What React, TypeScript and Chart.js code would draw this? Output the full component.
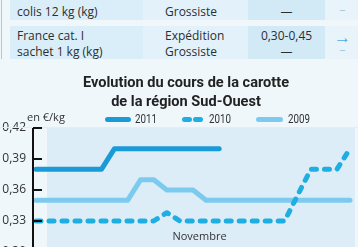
import React, { useEffect, useRef } from "react";
import { Chart, registerables } from "chart.js";

Chart.register(...registerables);

// ---- data ----
const weeks = [1, 2, 3, 4, 5, 6, 7, 8, 9, 10, 11, 12, 13, 14, 15, 16, 17, 18, 19, 20, 21, 22, 23, 24, 25];
const series2011 = [0.38, 0.38, 0.38, 0.38, 0.38, 0.38, 0.4, 0.4, 0.4, 0.4, 0.4, 0.4, 0.4, 0.4, 0.4, null, null, null, null, null, null, null, null, null, null];
const series2010 = [0.33, 0.33, 0.33, 0.33, 0.33, 0.33, 0.33, 0.33, 0.33, 0.33, 0.338, 0.33, 0.33, 0.33, 0.33, 0.33, 0.33, 0.33, 0.33, 0.33, 0.355, 0.38, 0.38, 0.38, 0.4];
const series2009 = [0.35, 0.35, 0.35, 0.35, 0.35, 0.35, 0.35, 0.35, 0.37, 0.37, 0.36, 0.36, 0.36, 0.35, 0.35, 0.35, 0.35, 0.35, 0.35, 0.35, 0.35, 0.35, 0.35, 0.35, 0.35];
const seriesNames = ["2011", "2010", "2009"];
const yTicks = [0.3, 0.33, 0.36, 0.39, 0.42];
const monthLabel = "Novembre";
const monthPosition = 13.5; // week at which the month label is centred
const titleLines = ["Evolution du cours de la carotte", "de la région Sud-Ouest"];
const unitLabel = "en €/kg";

const tableRows = [
  { product: ["", "colis 12 kg (kg)"], stage: ["", "Grossiste"], price: ["", "—"], trend: ["", "–"] },
  { product: ["France cat. I", "sachet 1 kg (kg)"], stage: ["Expédition", "Grossiste"], price: ["0,30-0,45", "—"], trend: ["→", "–"] },
];

const COLORS = ["#1a9bd7", "#1eaee2", "#7ccbef"];
const NARROW = "Roboto, 'Noto Sans', sans-serif";
const HUMAN = "'Open Sans', 'Noto Sans', sans-serif";

const fmt = (v: number) => v.toFixed(2).replace(".", ",");

function narrowText(ctx: any, t: string, x: number, y: number, sx: number, align: string) {
  ctx.save();
  ctx.translate(x, y);
  ctx.scale(sx, 1);
  ctx.textAlign = align;
  ctx.fillText(t, 0, 0);
  ctx.restore();
}

export default function App() {
  const ref = useRef<HTMLCanvasElement | null>(null);

  useEffect(() => {
    document.body.style.margin = "0";
    const canvas = ref.current;
    if (!canvas) return;

    const decor = {
      id: "decor",
      beforeDatasetsDraw(chart: any) {
        const { ctx, chartArea } = chart;
        ctx.save();
        ctx.fillStyle = "#dcedf8";
        ctx.fillRect(chartArea.left + 14, chartArea.top, chartArea.right - chartArea.left - 14, chart.height - chartArea.top);
        ctx.strokeStyle = "#e2eef6";
        ctx.lineWidth = 1;
        ctx.beginPath();
        ctx.moveTo(0, chartArea.top - 0.5);
        ctx.lineTo(chart.width, chartArea.top - 0.5);
        ctx.stroke();
        ctx.restore();
      },
      afterDatasetsDraw(chart: any) {
        const { ctx, chartArea, scales } = chart;
        const y = scales.y;
        const x = scales.x;
        ctx.save();
        // axis
        ctx.strokeStyle = "#111";
        ctx.lineWidth = 2;
        ctx.beginPath();
        ctx.moveTo(chartArea.left, chartArea.top);
        ctx.lineTo(chartArea.left, chart.height);
        ctx.stroke();
        yTicks.forEach((t) => {
          const py = Math.round(y.getPixelForValue(t));
          ctx.beginPath();
          ctx.moveTo(chartArea.left, py);
          ctx.lineTo(chartArea.left + 9, py);
          ctx.stroke();
        });
        // month label
        ctx.fillStyle = "#333";
        ctx.font = `11px ${HUMAN}`;
        ctx.textAlign = "center";
        ctx.textBaseline = "middle";
        ctx.fillText(monthLabel, x.getPixelForValue(monthPosition), y.getPixelForValue(0.3145));

        // title
        ctx.fillStyle = "#222";
        ctx.font = `bold 15.5px ${NARROW}`;
        const w0 = ctx.measureText(titleLines[0]).width;
        const sx = 206 / w0;
        narrowText(ctx, titleLines[0], 186, 21, sx, "center");
        narrowText(ctx, titleLines[1], 186, 40, sx, "center");

        // legend
        const ly = 57;
        ctx.textAlign = "left";
        ctx.font = `11px ${HUMAN}`;
        ctx.fillStyle = "#333";
        ctx.fillText(unitLabel, 27, ly - 1);
        ctx.lineCap = "round";
        ctx.lineWidth = 5;
        const marks = [
          { x0: 107.5, x1: 128.5, tx: 135, dash: [] as number[] },
          { x0: 184.5, x1: 204, tx: 209, dash: [5, 6] },
          { x0: 258.5, x1: 280.5, tx: 288, dash: [] as number[] },
        ];
        marks.forEach((m, i) => {
          ctx.strokeStyle = COLORS[i];
          ctx.setLineDash(m.dash);
          ctx.beginPath();
          ctx.moveTo(m.x0, ly + 0.5);
          ctx.lineTo(m.x1, ly + 0.5);
          ctx.stroke();
          ctx.setLineDash([]);
          ctx.fillStyle = "#333";
          ctx.font = `12.5px ${NARROW}`;
          narrowText(ctx, seriesNames[i], m.tx, ly + 0.5, 0.78, "left");
        });
        ctx.restore();
      },
    };

    const all = [series2011, series2010, series2009];
    const chart = new Chart(canvas, {
      type: "line",
      data: {
        datasets: all.map((s, i) => ({
          label: seriesNames[i],
          data: weeks.map((w, k) => ({ x: w, y: s[k] })) as any,
          borderColor: COLORS[i],
          backgroundColor: COLORS[i],
          borderWidth: 5,
          pointRadius: 0,
          tension: 0,
          borderJoinStyle: "round",
          borderCapStyle: "round",
          borderDash: i === 1 ? [5, 8] : [],
          spanGaps: false,
        })),
      },
      options: {
        animation: false,
        responsive: false,
        events: [],
        layout: { padding: { top: 66, right: 3, bottom: 50, left: 0 } },
        plugins: { legend: { display: false }, title: { display: false }, tooltip: { enabled: false } },
        scales: {
          x: {
            type: "linear",
            display: false,
            min: 1 - 3 / 13.083,
            max: 25 + 5 / 13.083,
          },
          y: {
            min: 0.3,
            max: 0.42,
            afterFit: (s: any) => {
              s.width = 33;
            },
            afterBuildTicks: (s: any) => {
              s.ticks = yTicks.map((v) => ({ value: v }));
            },
            grid: { display: false, drawTicks: false },
            border: { display: false },
            ticks: {
              padding: 7,
              color: "#333",
              font: { family: HUMAN, size: 12 },
              callback: (v: any) => fmt(Number(v)),
            },
          },
        },
      },
      plugins: [decor],
    });
    return () => chart.destroy();
  }, []);

  const cell = (left: number, width: number, top: number, height: number, bg: string) => ({
    position: "absolute" as const,
    left,
    width,
    top,
    height,
    background: bg,
  });
  const text = {
    position: "absolute" as const,
    fontFamily: HUMAN,
    fontSize: 12,
    lineHeight: "16px",
    color: "#2e2e2e",
    whiteSpace: "nowrap" as const,
  };

  const rowTops = [-14, 26];
  const rowHeights = [34, 33];

  return (
    <div style={{ position: "relative", width: 358, height: 247, overflow: "hidden", background: "#eff7fb" }}>
      <div style={{ position: "absolute", left: 1, top: 0, width: 1, height: 59, background: "#b9c6cd" }} />
      {tableRows.map((r, i) => (
        <React.Fragment key={i}>
          <div style={cell(10, 133, rowTops[i], rowHeights[i], "#d9eef8")} />
          <div style={cell(143, 105, rowTops[i], rowHeights[i], "#e3f2fa")} />
          <div style={cell(248, 77, rowTops[i], rowHeights[i], "#d2eaf6")} />
          <div style={cell(325, 33, rowTops[i], rowHeights[i], "#e9f4fa")} />
          {r.product.map((t, k) => (
            <div key={"p" + k} style={{ ...text, left: 17, top: rowTops[i] + 2 + k * 16 }}>{t}</div>
          ))}
          {r.stage.map((t, k) => (
            <div key={"s" + k} style={{ ...text, left: 165, top: rowTops[i] + 2 + k * 16 }}>{t}</div>
          ))}
          {r.price.map((t, k) => (
            <div key={"c" + k} style={{ ...text, left: 248, width: 77, textAlign: "center", top: rowTops[i] + 2 + k * 16 }}>{t}</div>
          ))}
          {r.trend.map((t, k) => (
            <div
              key={"t" + k}
              style={{
                ...text,
                left: 326,
                width: 33,
                textAlign: "center",
                top: rowTops[i] + (t === "→" ? 3 : 0) + k * 16,
                color: t === "→" ? "#45b1e1" : "#a9c9da",
                fontWeight: t === "→" ? 800 : 400,
                fontSize: t === "→" ? 17 : 12,
              }}
            >
              {t}
            </div>
          ))}
        </React.Fragment>
      ))}
      <canvas ref={ref} width={358} height={240} style={{ position: "absolute", left: 0, top: 62, width: 358, height: 240 }} />
    </div>
  );
}
